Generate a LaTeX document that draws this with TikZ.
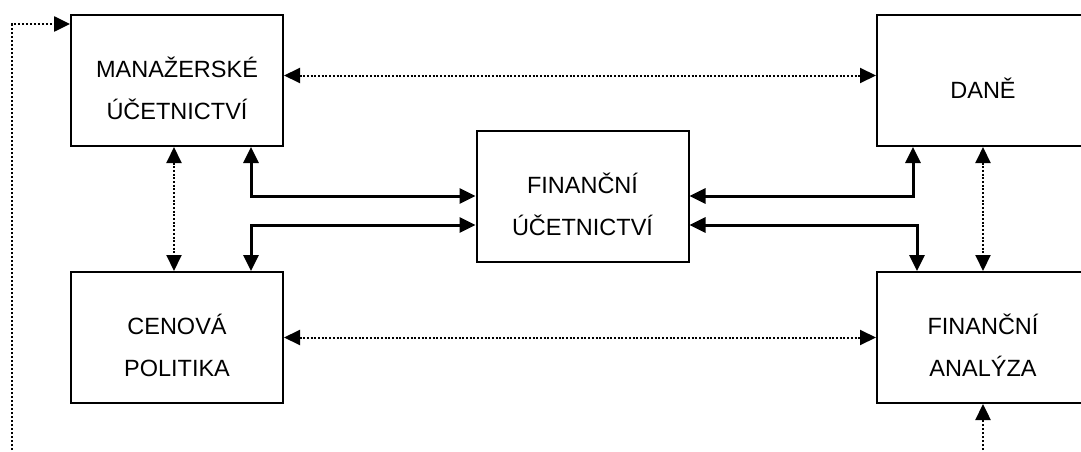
\documentclass[tikz,border=0pt]{standalone}
\usepackage{fontspec}
\setmainfont{Liberation Sans}
\usetikzlibrary{positioning,arrows.meta,calc}
\tikzset{
  blok/.style={draw, line width=2pt, minimum width=212pt, minimum height=131pt, inner sep=0pt},
  popis/.style={align=center, font=\fontsize{23.5}{42}\selectfont, yshift=-8pt},
  hrot/.tip={Triangle[length=16pt, width=15pt]},
  tlusta/.style={{hrot}-{hrot}, line width=3pt},
  tecky/.style={{hrot}-{hrot}, line width=2pt, dash pattern=on 2pt off 1.7pt},
}

\begin{document}
\begin{tikzpicture}[x=1pt, y=-1pt]
  \useasboundingbox (0,0) rectangle (1081,452);
  % bloky
  \node[blok, label={[popis]center:MANAŽERSKÉ\\ÚČETNICTVÍ}] (mu) at (177,80.5) {};
  \node[blok, below=124pt of mu, label={[popis]center:CENOVÁ\\POLITIKA}] (cp) {};
  \node[blok, right=592pt of mu, label={[popis]center:DANĚ}] (dane) {};
  \node[blok, right=592pt of cp, label={[popis]center:FINANČNÍ\\ANALÝZA}] (fa) {};
  \node[blok, label={[popis]center:FINANČNÍ\\ÚČETNICTVÍ}] (fu) at (582.5,196) {};

  % hlavni vazby na financni ucetnictvi
  \draw[tlusta] ($(mu.south east)+(-33,0)$) |- (fu.west);
  \draw[tlusta] ($(cp.north east)+(-33,0)$) |- ($(fu.west)+(0,29)$);
  \draw[tlusta] (fu.east) -| ($(dane.south west)+(37,0)$);
  \draw[tlusta] ($(fu.east)+(0,29)$) -| ($(fa.north west)+(41,0)$);

  % vedlejsi vazby
  \draw[tecky] ($(mu.east)+(0,-5)$) -- ($(dane.west)+(0,-5)$);
  \draw[tecky] (cp.east) -- (fa.west);
  \draw[tecky] ($(mu.south)+(-3,0)$) -- ($(cp.north)+(-3,0)$);
  \draw[tecky] (dane.south) -- (fa.north);
  \coordinate (vstup) at ($(fa.south)+(0,70)$);
  \draw[tecky, -{hrot}, line width=2.4pt, dash pattern=on 2.4pt off 1.6pt] (vstup) -- (fa.south);
  \coordinate (zpet) at (12,470);
  \draw[tecky, -{hrot}, line width=2.6pt, dash pattern=on 2.4pt off 1.6pt] (zpet) |- ($(mu.north west)+(0,10)$);
\end{tikzpicture}
\end{document}
